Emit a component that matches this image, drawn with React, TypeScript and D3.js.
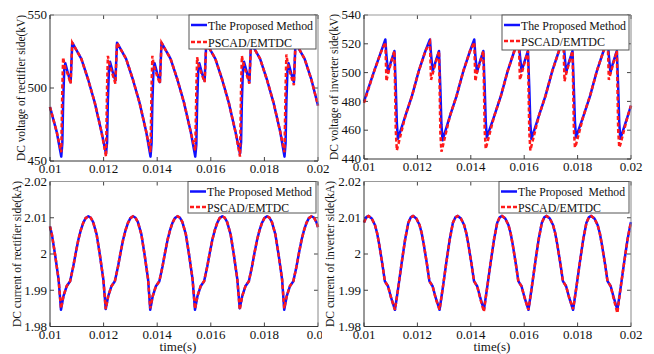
import React from "react";
import * as d3 from "d3";

// waveforms, time in seconds
const rectVoltTime = [
  0.01, 0.01025,
  0.01042, 0.01046, 0.01049, 0.01053, 0.01057, 0.01067, 0.01077, 0.01083, 0.01117, 0.01142, 0.01167, 0.01192,
  0.01209, 0.01213, 0.01216, 0.0122, 0.01224, 0.01234, 0.01244, 0.0125, 0.01284, 0.01309, 0.01334, 0.01359,
  0.01375, 0.01379, 0.01382, 0.01386, 0.0139, 0.014, 0.0141, 0.01416, 0.0145, 0.01475, 0.015, 0.01525,
  0.01542, 0.01546, 0.01549, 0.01553, 0.01557, 0.01567, 0.01577, 0.01583, 0.01617, 0.01642, 0.01667, 0.01692,
  0.01709, 0.01713, 0.01716, 0.0172, 0.01724, 0.01734, 0.01744, 0.0175, 0.01784, 0.01809, 0.01834, 0.01859,
  0.01875, 0.01879, 0.01882, 0.01886, 0.0189, 0.019, 0.0191, 0.01916, 0.0195, 0.01975, 0.02,
];
const rectVoltProposed = [
  487, 470,
  453, 462, 490, 512, 517, 510, 504, 531, 520, 506, 490, 470,
  455, 463, 492, 513, 518, 511, 505, 531, 520, 506, 490, 470,
  453, 462, 490, 512, 517, 510, 504, 531, 520, 506, 490, 470,
  453, 461, 489, 512, 517, 510, 505, 531, 520, 506, 490, 470,
  455, 463, 491, 513, 518, 511, 504, 531, 520, 506, 490, 470,
  453, 462, 490, 512, 517, 510, 504, 531, 520, 506, 488,
];
const rectVoltPscad = [
  487, 470,
  456, 500, 521, 517, 514, 509, 503, 531, 520, 506, 490, 470,
  453, 502, 522, 518, 515, 509, 503, 531, 520, 506, 490, 470,
  456, 501, 522, 517, 514, 508, 503, 531, 520, 506, 490, 470,
  457, 499, 521, 517, 514, 509, 504, 531, 520, 506, 490, 470,
  453, 501, 522, 518, 515, 509, 503, 531, 520, 506, 490, 470,
  456, 500, 523, 518, 514, 508, 502, 531, 520, 506, 488,
];

const invVoltTime = [
  0.01, 0.01038, 0.01063,
  0.0108, 0.01084, 0.0109, 0.011, 0.01114, 0.01119, 0.01123, 0.01127, 0.01155, 0.0118, 0.01205, 0.0123,
  0.01247, 0.01251, 0.01257, 0.01267, 0.01281, 0.01286, 0.0129, 0.01294, 0.01322, 0.01347, 0.01372, 0.01397,
  0.01413, 0.01417, 0.01423, 0.01433, 0.01447, 0.01452, 0.01456, 0.0146, 0.01488, 0.01513, 0.01538, 0.01563,
  0.0158, 0.01584, 0.0159, 0.016, 0.01614, 0.01619, 0.01623, 0.01627, 0.01655, 0.0168, 0.01705, 0.0173,
  0.01747, 0.01751, 0.01757, 0.01767, 0.01781, 0.01786, 0.0179, 0.01794, 0.01822, 0.01847, 0.01872, 0.01897,
  0.01913, 0.01917, 0.01923, 0.01933, 0.01947, 0.01952, 0.01956, 0.0196, 0.01988, 0.02,
];
const invVoltProposed = [
  480, 501, 514,
  523, 512, 500, 507, 515, 490, 465, 454, 470, 484, 501, 515,
  523, 513, 501, 507, 515, 489, 464, 453, 470, 484, 501, 515,
  523, 512, 500, 507, 515, 490, 466, 455, 470, 484, 501, 515,
  523, 512, 501, 507, 515, 490, 465, 454, 470, 484, 501, 515,
  523, 513, 500, 507, 515, 489, 466, 455, 470, 484, 501, 515,
  523, 512, 500, 507, 515, 490, 465, 454, 470, 477,
];
const invVoltPscad = [
  479, 501, 514,
  521, 494, 499, 506, 515, 460, 446, 449, 470, 484, 501, 515,
  521, 495, 499, 506, 515, 458, 445, 448, 470, 484, 501, 515,
  521, 494, 500, 506, 515, 460, 447, 450, 470, 484, 501, 515,
  521, 495, 499, 506, 515, 459, 446, 449, 470, 484, 501, 515,
  521, 494, 499, 506, 515, 461, 448, 450, 470, 484, 501, 515,
  521, 495, 499, 506, 515, 460, 448, 450, 470, 477,
];

const rectCurTime = [
  0.01, 0.01007, 0.01019, 0.01032,
  0.01041, 0.0105, 0.01062, 0.01075, 0.01087, 0.01096, 0.01106, 0.01115, 0.01124, 0.01133, 0.01143, 0.01152, 0.01161, 0.01174, 0.01186, 0.01199,
  0.01208, 0.01217, 0.01229, 0.01242, 0.01254, 0.01263, 0.01273, 0.01282, 0.01291, 0.013, 0.0131, 0.01319, 0.01328, 0.01341, 0.01353, 0.01366,
  0.01374, 0.01383, 0.01395, 0.01408, 0.0142, 0.01429, 0.01439, 0.01448, 0.01457, 0.01466, 0.01476, 0.01485, 0.01494, 0.01507, 0.01519, 0.01532,
  0.01541, 0.0155, 0.01562, 0.01575, 0.01587, 0.01596, 0.01606, 0.01615, 0.01624, 0.01633, 0.01643, 0.01652, 0.01661, 0.01674, 0.01686, 0.01699,
  0.01708, 0.01717, 0.01729, 0.01742, 0.01754, 0.01763, 0.01773, 0.01782, 0.01791, 0.018, 0.0181, 0.01819, 0.01828, 0.01841, 0.01853, 0.01866,
  0.01874, 0.01883, 0.01895, 0.01908, 0.0192, 0.01929, 0.01939, 0.01948, 0.01957, 0.01966, 0.01976, 0.01985, 0.01994, 0.02,
];
const rectCurProposed = [
  2.0076, 2.0054, 1.9998, 1.993,
  1.9846, 1.9883, 1.9911, 1.9925, 1.9966, 2.0003, 2.004, 2.0066, 2.0086, 2.0099, 2.0104, 2.01, 2.0088, 2.0054, 1.9998, 1.993,
  1.9848, 1.9883, 1.9911, 1.9925, 1.9966, 2.0003, 2.004, 2.0066, 2.0086, 2.0099, 2.0104, 2.01, 2.0088, 2.0054, 1.9998, 1.993,
  1.9846, 1.9883, 1.9911, 1.9925, 1.9966, 2.0003, 2.004, 2.0066, 2.0086, 2.0099, 2.0104, 2.01, 2.0088, 2.0054, 1.9998, 1.993,
  1.9846, 1.9883, 1.9911, 1.9925, 1.9966, 2.0003, 2.004, 2.0066, 2.0086, 2.0099, 2.0104, 2.01, 2.0088, 2.0054, 1.9998, 1.993,
  1.985, 1.9883, 1.9911, 1.9925, 1.9966, 2.0003, 2.004, 2.0066, 2.0086, 2.0099, 2.0104, 2.01, 2.0088, 2.0054, 1.9998, 1.993,
  1.9846, 1.9883, 1.9911, 1.9925, 1.9966, 2.0003, 2.004, 2.0066, 2.0086, 2.0099, 2.0104, 2.01, 2.0088, 2.0074,
];
const rectCurPscad = [
  2.0076, 2.0054, 1.9998, 1.993,
  1.985, 1.9883, 1.9911, 1.9925, 1.9966, 2.0003, 2.004, 2.0066, 2.0086, 2.0099, 2.0104, 2.01, 2.0088, 2.0054, 1.9998, 1.993,
  1.9848, 1.9883, 1.9911, 1.9925, 1.9966, 2.0003, 2.004, 2.0066, 2.0086, 2.0099, 2.0104, 2.01, 2.0088, 2.0054, 1.9998, 1.993,
  1.985, 1.9883, 1.9911, 1.9925, 1.9966, 2.0003, 2.004, 2.0066, 2.0086, 2.0099, 2.0104, 2.01, 2.0088, 2.0054, 1.9998, 1.993,
  1.9849, 1.9883, 1.9911, 1.9925, 1.9966, 2.0003, 2.004, 2.0066, 2.0086, 2.0099, 2.0104, 2.01, 2.0088, 2.0054, 1.9998, 1.993,
  1.9846, 1.9883, 1.9911, 1.9925, 1.9966, 2.0003, 2.004, 2.0066, 2.0086, 2.0099, 2.0104, 2.01, 2.0088, 2.0054, 1.9998, 1.993,
  1.985, 1.9883, 1.9911, 1.9925, 1.9966, 2.0003, 2.004, 2.0066, 2.0086, 2.0099, 2.0104, 2.01, 2.0088, 2.0074,
];

const invCurTime = [
  0.01, 0.01008, 0.01017, 0.01029, 0.01041, 0.01049, 0.01057, 0.01069, 0.01078, 0.0109, 0.01102,
  0.01116, 0.01122, 0.01128, 0.01141, 0.01154, 0.01166, 0.01175, 0.01184, 0.01196, 0.01208, 0.01216, 0.01224, 0.01236, 0.01245, 0.01257, 0.01269,
  0.01283, 0.01289, 0.01295, 0.01308, 0.01321, 0.01333, 0.01342, 0.01351, 0.01363, 0.01375, 0.01383, 0.01391, 0.01403, 0.01412, 0.01424, 0.01436,
  0.01449, 0.01455, 0.01461, 0.01474, 0.01487, 0.01499, 0.01508, 0.01517, 0.01529, 0.01541, 0.01549, 0.01557, 0.01569, 0.01578, 0.0159, 0.01602,
  0.01616, 0.01622, 0.01628, 0.01641, 0.01654, 0.01666, 0.01675, 0.01684, 0.01696, 0.01708, 0.01716, 0.01724, 0.01736, 0.01745, 0.01757, 0.01769,
  0.01783, 0.01789, 0.01795, 0.01808, 0.01821, 0.01833, 0.01842, 0.01851, 0.01863, 0.01875, 0.01883, 0.01891, 0.01903, 0.01912, 0.01924, 0.01936,
  0.01949, 0.01955, 0.01961, 0.01974, 0.01987, 0.01999, 0.02,
];
const invCurProposed = [
  2.0087, 2.0101, 2.0105, 2.0098, 2.008, 2.0058, 2.0026, 1.9971, 1.9925, 1.9911, 1.9878,
  1.9846, 1.9876, 1.9906, 1.9975, 2.004, 2.0086, 2.0101, 2.0105, 2.0098, 2.008, 2.0058, 2.0026, 1.9971, 1.9925, 1.9911, 1.9878,
  1.9846, 1.9876, 1.9906, 1.9975, 2.004, 2.0086, 2.0101, 2.0105, 2.0098, 2.008, 2.0058, 2.0026, 1.9971, 1.9925, 1.9911, 1.9878,
  1.9846, 1.9876, 1.9906, 1.9975, 2.004, 2.0086, 2.0101, 2.0105, 2.0098, 2.008, 2.0058, 2.0026, 1.9971, 1.9925, 1.9911, 1.9878,
  1.9846, 1.9876, 1.9906, 1.9975, 2.004, 2.0086, 2.0101, 2.0105, 2.0098, 2.008, 2.0058, 2.0026, 1.9971, 1.9925, 1.9911, 1.9878,
  1.9846, 1.9876, 1.9906, 1.9975, 2.004, 2.0086, 2.0101, 2.0105, 2.0098, 2.008, 2.0058, 2.0026, 1.9971, 1.9925, 1.9911, 1.9878,
  1.9846, 1.9876, 1.9906, 1.9975, 2.004, 2.0086, 2.0088,
];
const invCurPscad = [
  2.0087, 2.0101, 2.0105, 2.0098, 2.008, 2.0058, 2.0026, 1.9971, 1.9925, 1.9911, 1.9878,
  1.9846, 1.9876, 1.9906, 1.9975, 2.004, 2.0086, 2.0101, 2.0105, 2.0098, 2.008, 2.0058, 2.0026, 1.9971, 1.9925, 1.9911, 1.9876,
  1.9847, 1.9876, 1.9906, 1.9975, 2.004, 2.0086, 2.0101, 2.0105, 2.0098, 2.008, 2.0058, 2.0026, 1.9971, 1.9925, 1.9911, 1.9875,
  1.9841, 1.9874, 1.9906, 1.9975, 2.004, 2.0086, 2.0101, 2.0105, 2.0098, 2.008, 2.0058, 2.0026, 1.9971, 1.9925, 1.9911, 1.9878,
  1.9846, 1.9876, 1.9906, 1.9975, 2.004, 2.0086, 2.0101, 2.0105, 2.0098, 2.008, 2.0058, 2.0026, 1.9971, 1.9925, 1.9911, 1.9878,
  1.9848, 1.9876, 1.9906, 1.9975, 2.004, 2.0086, 2.0101, 2.0105, 2.0098, 2.008, 2.0058, 2.0026, 1.9971, 1.9925, 1.9911, 1.9874,
  1.9837, 1.9872, 1.9906, 1.9975, 2.004, 2.0086, 2.0088,
];

const timeTicks = [0.01, 0.012, 0.014, 0.016, 0.018, 0.02];
const rectVoltTicks = [450, 500, 550];
const invVoltTicks = [440, 460, 480, 500, 520, 540];
const currentTicks = [1.98, 1.99, 2, 2.01, 2.02];
const seriesNames = ["The Proposed Method", "PSCAD/EMTDC"];
const seriesNamesAlt = ["The Proposed  Method", "PSCAD/EMTDC"];

const FONT = "'Liberation Serif', 'Times New Roman', serif";
const BLUE = "#1010ff";
const RED = "#ff1a1a";

function Panel(props) {
  const { box, yDomain, yTicks, time, proposed, pscad, yTitle, titleX, xTitle, legend, names, cover } = props;
  const x = d3.scaleLinear().domain([0.01, 0.02]).range([box.x0, box.x1]);
  const y = d3.scaleLinear().domain(yDomain).range([box.y1, box.y0]);
  const line = d3
    .line<number>()
    .x((d, i) => x(time[i]))
    .y((d) => y(d));
  const tick = 4;
  const lg = legend;

  return (
    <g fontFamily={FONT} fill="#111">
      {cover && <rect x={cover.x} y={cover.y} width={654 - cover.x} height={354 - cover.y} fill="#fff" />}
      {/* ticks, inward on all sides */}
      {timeTicks.map((t) => (
        <g key={"xt" + t} stroke="#444" strokeWidth={1}>
          <line x1={x(t)} x2={x(t)} y1={box.y1} y2={box.y1 - tick} />
          <line x1={x(t)} x2={x(t)} y1={box.y0} y2={box.y0 + tick} />
        </g>
      ))}
      {yTicks.map((v) => (
        <g key={"yt" + v} stroke="#444" strokeWidth={1}>
          <line x1={box.x0} x2={box.x0 + tick} y1={y(v)} y2={y(v)} />
          <line x1={box.x1} x2={box.x1 - tick} y1={y(v)} y2={y(v)} />
        </g>
      ))}
      {/* series */}
      <path d={line(proposed)} fill="none" stroke={BLUE} strokeWidth={2.5} strokeLinejoin="round" />
      <path d={line(pscad)} fill="none" stroke={RED} strokeWidth={2.5} strokeDasharray="4 2.5" />
      {/* frame */}
      <line x1={box.x0} x2={box.x1} y1={box.y0} y2={box.y0} stroke="#999" />
      <line x1={box.x1} x2={box.x1} y1={box.y0} y2={box.y1} stroke="#888" />
      <line x1={box.x0} x2={box.x0} y1={box.y0} y2={box.y1} stroke="#333" />
      <line x1={box.x0} x2={box.x1} y1={box.y1} y2={box.y1} stroke="#333" />
      {/* tick labels */}
      {timeTicks.map((t) => (
        <text key={"xl" + t} x={x(t)} y={box.y1 + 12} fontSize={13} textAnchor="middle">
          {String(t)}
        </text>
      ))}
      {yTicks.map((v) => (
        <text key={"yl" + v} x={box.x0 - 3} y={y(v)} dy="0.33em" fontSize={13} textAnchor="end">
          {String(v)}
        </text>
      ))}
      <text
        transform={`translate(${titleX},${(box.y0 + box.y1) / 2}) rotate(-90)`}
        dy="0.33em"
        fontSize={13}
        textAnchor="middle"
        textLength={146}
        lengthAdjust="spacingAndGlyphs"
      >
        {yTitle}
      </text>
      {xTitle && (
        <text x={xTitle.x} y={351} fontSize={13} textAnchor="middle">
          time(s)
        </text>
      )}
      {/* legend */}
      <rect x={lg.x0} y={lg.y0} width={lg.x1 - lg.x0} height={lg.y1 - lg.y0} fill="#fff" stroke="#555" strokeWidth={1} />
      <line x1={lg.x0 + 2} x2={lg.x0 + 18} y1={lg.y0 + 10} y2={lg.y0 + 10} stroke={BLUE} strokeWidth={2.5} />
      <line x1={lg.x0 + 2} x2={lg.x0 + 18} y1={lg.row2} y2={lg.row2} stroke={RED} strokeWidth={2.5} strokeDasharray="4 2" />
      <text
        x={lg.x0 + 19}
        y={lg.y0 + 14.5}
        fontSize={13}
        textLength={lg.w1}
        lengthAdjust="spacingAndGlyphs"
        style={{ whiteSpace: "pre" }}
      >
        {names[0]}
      </text>
      <text x={lg.x0 + 19} y={lg.row2 + 4.5} fontSize={13} textLength={lg.w2} lengthAdjust="spacingAndGlyphs">
        {names[1]}
      </text>
    </g>
  );
}

export default function App() {
  return (
    <svg width={654} height={354} style={{ position: "absolute", left: 0, top: 0, background: "#fff" }}>
      <Panel
        box={{ x0: 50, x1: 318, y0: 15, y1: 161 }}
        yDomain={[450, 550]}
        yTicks={rectVoltTicks}
        time={rectVoltTime}
        proposed={rectVoltProposed}
        pscad={rectVoltPscad}
        yTitle="DC voltage of rectifier side(kV)"
        titleX={21}
        legend={{ x0: 189, x1: 316, y0: 15, y1: 49, row2: 42, w1: 105, w2: 84 }}
        names={seriesNames}
      />
      <Panel
        box={{ x0: 364, x1: 631, y0: 15, y1: 159 }}
        yDomain={[440, 540]}
        yTicks={invVoltTicks}
        time={invVoltTime}
        proposed={invVoltProposed}
        pscad={invVoltPscad}
        yTitle="DC voltage of inverter side(kV)"
        titleX={334}
        legend={{ x0: 502, x1: 629, y0: 15, y1: 50, row2: 41, w1: 105, w2: 84 }}
        names={seriesNames}
      />
      <Panel
        box={{ x0: 50, x1: 318, y0: 181.5, y1: 326.5 }}
        yDomain={[1.98, 2.02]}
        yTicks={currentTicks}
        time={rectCurTime}
        proposed={rectCurProposed}
        pscad={rectCurPscad}
        yTitle="DC current of rectifier side(kA)"
        titleX={17}
        xTitle={{ x: 178 }}
        legend={{ x0: 188, x1: 316, y0: 181.5, y1: 213, row2: 207, w1: 105, w2: 82 }}
        names={seriesNames}
      />
      <Panel
        box={{ x0: 364, x1: 631, y0: 181.5, y1: 326.5 }}
        yDomain={[1.98, 2.02]}
        yTicks={currentTicks}
        time={invCurTime}
        proposed={invCurProposed}
        pscad={invCurPscad}
        yTitle="DC current of inverter side(kA)"
        titleX={330}
        xTitle={{ x: 492 }}
        legend={{ x0: 499, x1: 629, y0: 181.5, y1: 213, row2: 207, w1: 107, w2: 83 }}
        names={seriesNamesAlt}
        cover={{ x: 322, y: 176 }}
      />
    </svg>
  );
}
